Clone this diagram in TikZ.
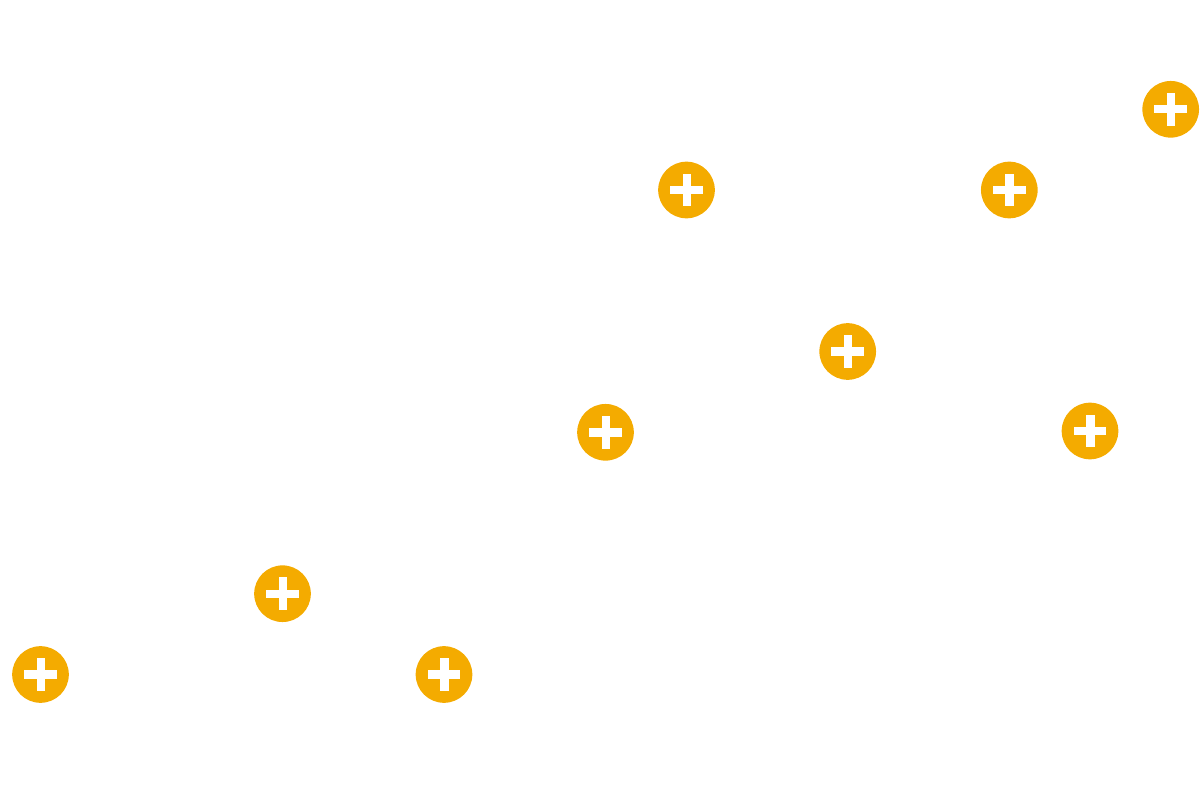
\documentclass[tikz,border=0pt]{standalone}
\definecolor{badgeamber}{HTML}{F4AB00}
\tikzset{
  x=0.75pt,y=-0.75pt,
  plusbadge/.style={circle,fill=badgeamber,draw=none,inner sep=0pt,outer sep=0pt,minimum size=42.5pt,
    path picture={
      \fill[white] ([xshift=-12.2pt,yshift=-3.15pt]path picture bounding box.center) rectangle ([xshift=12.2pt,yshift=3.15pt]path picture bounding box.center);
      \fill[white] ([xshift=-2.9pt,yshift=-12.2pt]path picture bounding box.center) rectangle ([xshift=3.4pt,yshift=12.2pt]path picture bounding box.center);
    }}
}
\begin{document}
\begin{tikzpicture}
\useasboundingbox (0,0) rectangle (1200,802);
\node[plusbadge] (a) at (40.5,674.5) {};
\node[plusbadge] (b) at (282.5,593.7) {};
\node[plusbadge] (c) at (444,674.5) {};
\node[plusbadge] (d) at (605.5,432.3) {};
\node[plusbadge] (e) at (686.5,190) {};
\node[plusbadge] (f) at (847.7,351.5) {};
\node[plusbadge] (g) at (1009.3,190) {};
\node[plusbadge] (h) at (1090,431) {};
\node[plusbadge] (i) at (1170.7,109.3) {};
\end{tikzpicture}
\end{document}
